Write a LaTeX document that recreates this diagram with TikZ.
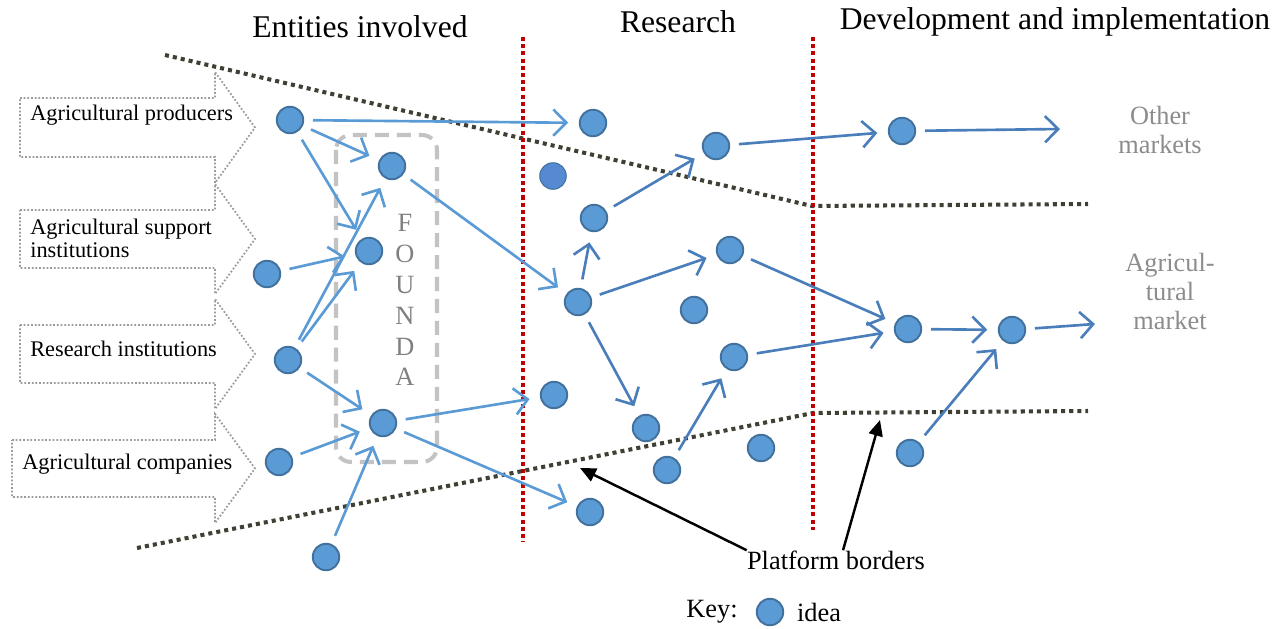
\documentclass[tikz,border=0pt]{standalone}
\usepackage{fontspec}
\setmainfont{Liberation Serif}
\usetikzlibrary{arrows.meta}
\definecolor{ideablue}{HTML}{5B9BD5}
\definecolor{ideaedge}{HTML}{41719C}
\definecolor{ideadark}{HTML}{558AD2}
\definecolor{linkblue}{HTML}{5B9BD5}
\definecolor{flowblue}{HTML}{4A7EBB}
\definecolor{borderdark}{HTML}{3F3F33}
\definecolor{redline}{HTML}{C00000}
\definecolor{labelgrey}{HTML}{8C8C8C}
\definecolor{boxgrey}{HTML}{9A9A9A}
\definecolor{foundagrey}{HTML}{C3C3C3}

\begin{document}
\begin{tikzpicture}[
		x=0.02cm, y=-0.02cm,
		idea/.style={circle,draw=ideaedge,fill=ideablue,line width=1.1pt,minimum size=0.53cm,inner sep=0pt},
		link/.style={draw=linkblue,line width=1.5pt,shorten <=5pt,shorten >=6pt,-{Straight Barb[length=7.5pt,width=15pt,line width=1.5pt]}},
		flow/.style={link,draw=flowblue},
		pointer/.style={draw=black,line width=1.4pt,-{Triangle[length=9pt,width=8pt]}},
		platform/.style={draw=borderdark,line width=2.3pt,dash pattern=on 2.3pt off 2.3pt},
		stage/.style={draw=redline,line width=2pt,dash pattern=on 2.3pt off 1.8pt},
		entbox/.style={draw=boxgrey,line width=1pt,dash pattern=on 1pt off 1.1pt},
		enttext/.style={anchor=west,align=left,inner sep=0pt,font=\fontsize{12.7}{13}\selectfont},
		title/.style={inner sep=0pt,font=\fontsize{18}{20}\selectfont},
		market/.style={inner sep=0pt,align=center,text=labelgrey,font=\fontsize{15}{16.5}\selectfont},
		keytext/.style={inner sep=0pt,font=\fontsize{15}{17}\selectfont}
		]
		\useasboundingbox (0,0) rectangle (1286,629);
		
		% titles
		\node[title] (t1) at (360,27) {Entities involved};
		\node[title] (t2) at (678,22) {Research};
		\node[title] (t3) at (1055,22) {Development and implementation};
		
		% entity boxes
		\foreach \t/\b/\l/\ty/\tx [count=\i] in {98/157/20/115/Agricultural producers,
			210/268/20/238/{Agricultural support\\institutions},
			325/383/20/349/Research institutions,
			440/497/12/464/Agricultural companies}{
			\draw[entbox] (\l,\t) -- (215,\t) -- (215,{\t-26}) -- (255,{(\t+\b)/2})
				-- (215,{\b+26}) -- (215,\b) -- (\l,\b) -- cycle;
			\node[enttext] (ent\i) at ({\l+10},\ty) {\tx};
		}
		
		% platform borders
		\draw[platform] (165,55) -- (812,206) -- (1088,204);
		\draw[platform] (137,548) -- (813,413) -- (1088,411);
		\draw[stage] (523,37) -- (523,542);
		\draw[stage] (813,37) -- (813,530);
		
		% FOUNDA
		\draw[draw=foundagrey,line width=2.3pt,dash pattern=on 8pt off 4.5pt,rounded corners=0.3cm] (336,135) rectangle (437,462);
		\node[market,font=\fontsize{15}{17.6}\selectfont,text=gray] (founda) at (405,300) {F\\O\\U\\N\\D\\A};
		
		% ideas
		\node[idea] (e1) at (290,120) {};
		\node[idea] (e2) at (392,166) {};
		\node[idea] (e3) at (369,251) {};
		\node[idea] (e4) at (267,274) {};
		\node[idea] (e5) at (288,360) {};
		\node[idea] (e6) at (383,423) {};
		\node[idea] (e7) at (279,462) {};
		\node[idea] (e8) at (326,557) {};
		
		\node[idea] (r1) at (593,123) {};
		\node[idea,fill=ideadark,line width=0.6pt] (r2) at (553,176) {};
		\node[idea] (r3) at (594,218) {};
		\node[idea] (r4) at (716,146) {};
		\node[idea] (r5) at (578,302) {};
		\node[idea] (r6) at (730,250) {};
		\node[idea] (r7) at (694,310) {};
		\node[idea] (r8) at (734,357) {};
		\node[idea] (r9) at (554,395) {};
		\node[idea] (r10) at (646,428) {};
		\node[idea] (r11) at (667,470) {};
		\node[idea] (r12) at (761,448) {};
		\node[idea] (r13) at (590,512) {};
		
		\node[idea] (d1) at (902,131) {};
		\node[idea] (d2) at (908,329) {};
		\node[idea] (d3) at (1012,330) {};
		\node[idea] (d4) at (910,453) {};
		
		% markets
		\node[market] (other) at (1160,130) {Other\\markets};
		\node[market] (agri) at (1170,291) {Agricul-\\tural\\market};
		\coordinate (om) at (1060,129);
		\coordinate (am) at (1095,324);
		
		% links
		\foreach \a/\b in {e1/r1,e1/e2,e1/e3,e2/r5,e4/e3,e5/e2,e5/e3,e5/e6,e6/r9,e6/r13,e7/e6,e8/e6}
			\draw[link] (\a) -- (\b);
		\foreach \a/\b in {r3/r4,r4/d1,r5/r3,r5/r6,r5/r10,r6/d2,r8/d2,r11/r8,d2/d3,d4/d3}
			\draw[flow] (\a) -- (\b);
		\draw[flow,shorten >=0pt] (d1) -- (om);
		\draw[flow,shorten >=0pt] (d3) -- (am);
		
		% label
		\node[keytext] (pb) at (836,560) {Platform borders};
		\coordinate (pb1) at (580,468);
		\coordinate (pb2) at (880,420);
		\draw[pointer] (pb.north west) -- (pb1);
		\draw[pointer] ([xshift=4pt]pb.north) -- (pb2);
		
		% key
		\node[keytext] (key) at (712,612) {Key:};
		\node[idea] (keyidea) at (770,612) {};
		\node[keytext] (keylbl) at (819,612) {idea};
	\end{tikzpicture}
\end{document}
